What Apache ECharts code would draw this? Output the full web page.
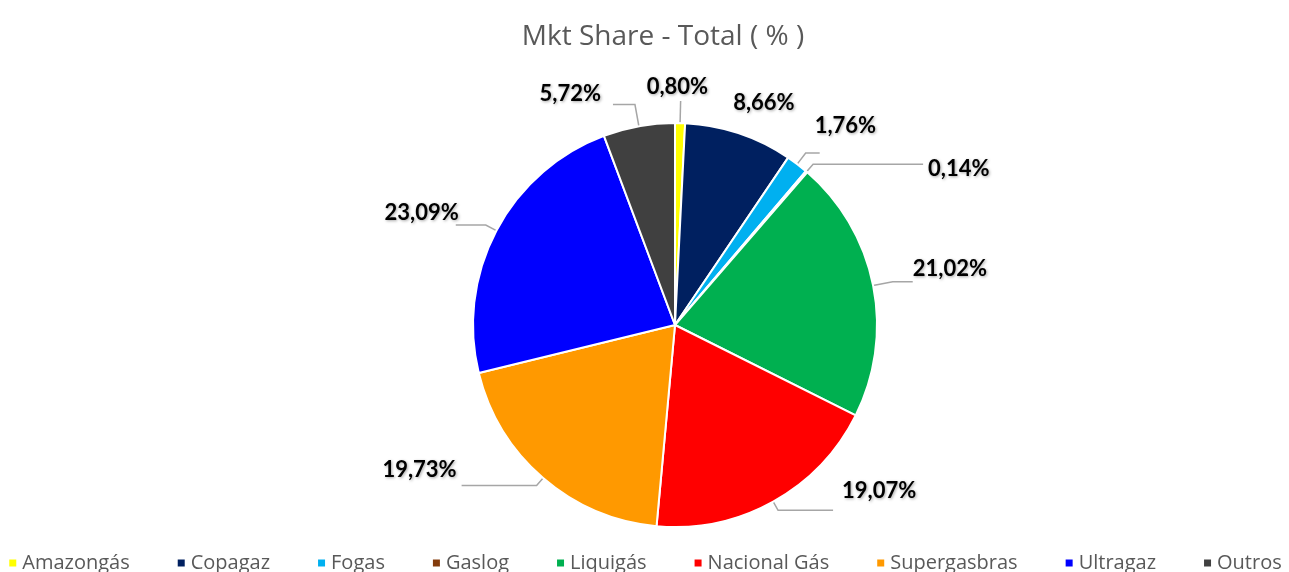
<!DOCTYPE html>
<html><head><meta charset="utf-8">
<script src="https://cdn.jsdelivr.net/npm/echarts@6/dist/echarts.min.js"></script>
<style>html,body{margin:0;padding:0;background:#fff}#c{width:1289px;height:572px}</style>
</head><body><div id="c"></div>
<script>
const categories = ['Amazongás','Copagaz','Fogas','Gaslog','Liquigás','Nacional Gás','Supergasbras','Ultragaz','Outros'];
const values = [0.80, 8.66, 1.76, 0.14, 21.02, 19.07, 19.73, 23.09, 5.72];
const colors = ['#FFFF00','#002060','#00B0F0','#843C0C','#00B050','#FF0000','#FF9900','#0000FF','#404040'];
// leader line lengths per slice [length, length2]
const lineLen = [[22,0],[10,8],[14,14],[10,110],[20,20],[10,55],[10,75],[12,30],[22,22]];
const lineShow = [true,false,true,true,true,true,true,true,true];
// small label nudges [dx, dy]
const nudge = [[-39,-14],[-22,-21],[-10,-27],[0,5],[-5,-13],[4,-19],[0,-16],[8,-12],[-7,-11]];

const chart = echarts.init(document.getElementById('c'));
chart.setOption({
  animation: false,
  title: {
    text: 'Mkt Share - Total ( % )', left: 658, top: 18, textAlign: 'center',
    textStyle: { fontFamily: 'Open Sans', fontWeight: 'normal', fontSize: 28, color: '#595959' }
  },
  legend: {
    bottom: -6, left: 'center', itemWidth: 9, itemHeight: 9, itemGap: 46, icon: 'rect',
    textStyle: { fontFamily: 'Open Sans', fontSize: 20, color: '#595959' },
    data: categories
  },
  series: [{
    type: 'pie', center: [675, 325], radius: 202, startAngle: 90, clockwise: true,
    avoidLabelOverlap: false,
    itemStyle: { borderColor: '#fff', borderWidth: 2 },
    label: {
      show: true, position: 'outside',
      formatter: p => values[p.dataIndex].toFixed(2).replace('.', ',') + '%',
      fontFamily: 'Lato', fontWeight: 'bold', fontSize: 22, color: '#000',
      textShadowColor: 'rgba(0,0,0,0.35)', textShadowBlur: 3, textShadowOffsetX: 1, textShadowOffsetY: 1
    },
    labelLine: { show: true, lineStyle: { color: '#A6A6A6', width: 1.5 } },
    labelLayout: p => ({ dx: nudge[p.dataIndex][0], dy: nudge[p.dataIndex][1] }),
    data: categories.map((c, i) => ({
      name: c, value: values[i], itemStyle: { color: colors[i] },
      labelLine: { show: lineShow[i], length: lineLen[i][0], length2: lineLen[i][1] }
    }))
  }]
});
</script></body></html>
